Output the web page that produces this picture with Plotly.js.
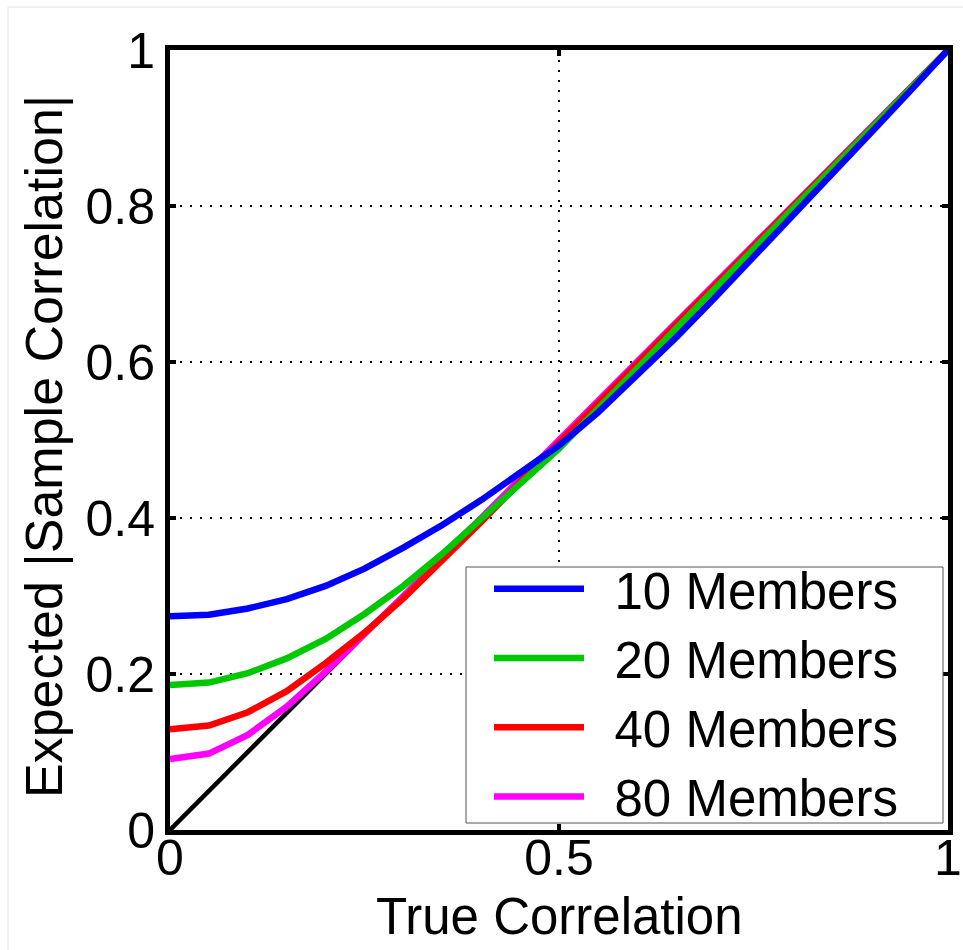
<!DOCTYPE html>
<html>
<head>
<meta charset="utf-8">
<script src="https://cdn.plot.ly/plotly-3.0.1.min.js"></script>
<style>
  html, body { margin: 0; padding: 0; background: #ffffff; }
  #chart { width: 963px; height: 950px; }
</style>
</head>
<body>
<div id="chart"></div>
<script>
// ---- Data ----
var trueCorr = [0, 0.05, 0.1, 0.15, 0.2, 0.25, 0.3, 0.35, 0.4, 0.45, 0.5,
                0.55, 0.6, 0.65, 0.7, 0.75, 0.8, 0.85, 0.9, 0.95, 1.0];
var members10 = [0.274, 0.276, 0.284, 0.296, 0.313, 0.335, 0.362, 0.391, 0.423, 0.457, 0.493,
                 0.535, 0.582, 0.631, 0.682, 0.734, 0.787, 0.840, 0.893, 0.946, 1.0];
var members20 = [0.186, 0.189, 0.201, 0.220, 0.245, 0.277, 0.313, 0.354, 0.399, 0.443, 0.489,
                 0.540, 0.592, 0.643, 0.694, 0.745, 0.796, 0.847, 0.898, 0.949, 1.0];
var members40 = [0.129, 0.134, 0.151, 0.178, 0.214, 0.253, 0.297, 0.345, 0.395, 0.446, 0.497,
                 0.548, 0.598, 0.648, 0.698, 0.749, 0.799, 0.849, 0.899, 0.950, 1.0];
var members80 = [0.091, 0.098, 0.122, 0.158, 0.203, 0.251, 0.300, 0.350, 0.400, 0.450, 0.500,
                 0.550, 0.600, 0.650, 0.700, 0.750, 0.800, 0.850, 0.900, 0.950, 1.0];
var refX = [0, 1];
var refY = [0, 1];
var seriesNames = ["10 Members", "20 Members", "40 Members", "80 Members"];
var xTickVals = [0, 0.5, 1];
var xTickText = ["0", "0.5", "1"];
var yTickVals = [0, 0.2, 0.4, 0.6, 0.8, 1];
var yTickText = ["0", "0.2", "0.4", "0.6", "0.8", "1"];
var xTitle = "True Correlation";
var yTitle = "Expected |Sample Correlation|";

// ---- Styling ----
var FONT = "Liberation Sans, Arial, Helvetica, sans-serif";
var colors = ["#0000ff", "#00c800", "#ff0000", "#ff00ff"];
var seriesY = [members10, members20, members40, members80];

var traces = [{
  x: refX, y: refY, type: "scatter", mode: "lines",
  line: { color: "#000000", width: 4.5 },
  showlegend: false, hoverinfo: "skip"
}];
// draw 80 first, 10 last (10 on top), legend ranked 10..80
for (var i = seriesY.length - 1; i >= 0; i--) {
  traces.push({
    x: trueCorr, y: seriesY[i], type: "scatter", mode: "lines",
    name: "\u2002" + seriesNames[i],
    line: { color: colors[i], width: 6.5 },
    legendrank: i + 1
  });
}

var axisCommon = {
  range: [0, 1],
  showline: true, linecolor: "#000000", linewidth: 5, mirror: "ticks",
  ticks: "inside", ticklen: 6, tickwidth: 4, tickcolor: "#000000",
  showgrid: true, gridcolor: "#000000", gridwidth: 1.5, griddash: "2px,8px",
  zeroline: false, fixedrange: true,
  tickfont: { family: FONT, size: 50, color: "#000000" },
  tickmode: "array"
};

// pixel -> paper helpers for the plot area (l=170, t=50, w=778, h=780)
function px(xp) { return (xp - 170) / 778; }
function py(yp) { return (830 - yp) / 780; }

var layout = {
  width: 963, height: 950,
  margin: { l: 170, r: 15, t: 50, b: 120 },
  paper_bgcolor: "#ffffff", plot_bgcolor: "#ffffff",
  showlegend: true,
  xaxis: Object.assign({}, axisCommon, {
    tickvals: xTickVals, ticktext: xTickText, ticklabelstandoff: -20
  }),
  yaxis: Object.assign({}, axisCommon, {
    tickvals: yTickVals, ticktext: yTickText
  }),
  legend: {
    x: px(489), xanchor: "left", y: py(549), yanchor: "top",
    bgcolor: "rgba(0,0,0,0)", borderwidth: 0,
    font: { family: FONT, size: 51, color: "#000000" },
    itemwidth: 90, tracegroupgap: 0
  },
  annotations: [
    { text: xTitle, xref: "paper", yref: "paper", x: 0.5, y: py(916),
      xanchor: "center", yanchor: "middle", showarrow: false,
      font: { family: FONT, size: 51, color: "#000000" } },
    { text: yTitle, xref: "paper", yref: "paper", x: px(44), y: py(447),
      xanchor: "center", yanchor: "middle", showarrow: false, textangle: -90,
      font: { family: FONT, size: 52, color: "#000000" } }
  ],
  shapes: [{
    type: "rect", xref: "paper", yref: "paper",
    x0: px(8), x1: px(990), y0: py(990), y1: py(7),
    line: { color: "#e4e4e4", width: 1 }, fillcolor: "rgba(0,0,0,0)", layer: "below"
  }, {
    type: "rect", xref: "paper", yref: "paper",
    x0: px(466), x1: px(943), y0: py(823), y1: py(567),
    line: { color: "#555555", width: 1 }, fillcolor: "#ffffff", layer: "above"
  }]
};

Plotly.newPlot("chart", traces, layout, { displayModeBar: false, staticPlot: true });
</script>
</body>
</html>
